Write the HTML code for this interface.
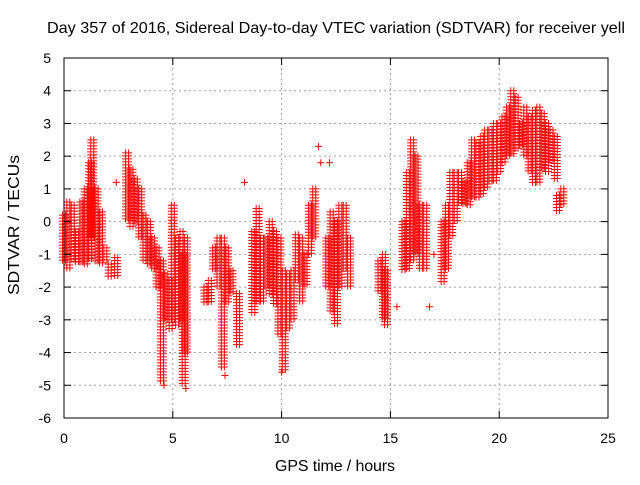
<!DOCTYPE html>
<html><head><meta charset="utf-8"><style>
body{margin:0;background:#fff;width:640px;height:480px;overflow:hidden}
svg text{font-family:"Liberation Sans",sans-serif;font-size:14px;fill:#000}
svg text.big{font-size:16px}
</style></head><body>
<svg id="chart" width="640" height="480" xmlns="http://www.w3.org/2000/svg">
<rect width="640" height="480" fill="#fff"/>
<text class="big" x="47" y="33" textLength="578" lengthAdjust="spacingAndGlyphs">Day 357 of 2016, Sidereal Day-to-day VTEC variation (SDTVAR) for receiver yell</text>
<g id="grid"></g><g id="marks"></g><g id="axes"></g>
<text class="big" x="335" y="471" text-anchor="middle" textLength="120">GPS time / hours</text>
<text class="big" transform="translate(19,225) rotate(-90)" text-anchor="middle" textLength="140" lengthAdjust="spacingAndGlyphs">SDTVAR / TECUs</text>
</svg>
<script>
const xTicks=[0,5,10,15,20,25];
const yTicks=[5,4,3,2,1,0,-1,-2,-3,-4,-5,-6];
const binTimes=[0,0.2,0.4,0.6,0.8,1.0,1.2,1.3,1.5,1.7,1.9,2.1,2.4,2.9,3.1,3.3,3.5,3.7,3.9,4.1,4.3,4.5,4.7,4.9,5.0,5.2,5.4,5.5,5.6,6.5,6.7,6.9,7.1,7.3,7.5,7.7,8.0,8.7,8.9,9.1,9.3,9.5,9.7,9.9,10.1,10.3,10.5,10.7,10.9,11.1,11.3,11.5,12.1,12.3,12.5,12.7,12.9,13.1,14.5,14.7,14.8,15.6,15.8,16.0,16.2,16.4,16.6,17.4,17.6,17.8,18.0,18.2,18.4,18.6,18.8,19.0,19.2,19.4,19.6,19.8,20.0,20.2,20.4,20.6,20.8,21.0,21.2,21.4,21.6,21.8,22.0,22.2,22.4,22.6,22.7,22.9];
const binLows=[-1.2,-1.5,-1.2,-1.3,-1.3,-1.3,-1.2,-0.5,-1.2,-1.3,-1.2,-1.7,-1.7,0,-0.2,0,-0.5,-1.2,-1.3,-1.5,-2,-4.9,-3.0,-3.3,-3,-3.2,-3,-5,-4,-2.5,-2.5,-1.5,-2,-4.5,-2.5,-2.2,-3.8,-2.8,-2.5,-2.5,-2,-2.2,-2.5,-3.5,-4.6,-3.3,-3,-1.8,-2.5,-2,-1,-0.5,-2,-2.8,-3.2,-2,-1.5,-2,-2.2,-3,-3.2,-1.5,-1.5,-1.2,-1,-1.5,-1.5,-1.9,-1.5,-0.5,0,0.5,0.5,0.5,0.7,0.7,0.8,1,1.2,1.2,1.5,1.8,2,2,2.2,2.3,2,1.5,1.2,1.2,1.6,1.5,1.8,1.3,0.3,0.5];
const binHighs=[0.2,0.6,0.5,-0.3,0.6,1.0,1.8,2.5,1.0,0.3,-0.8,-1.3,-1.1,2.1,1.6,1.3,1.0,0.2,0,-0.5,-0.8,-1.2,-1.6,-1.8,0.5,-0.5,-0.3,-1,-0.5,-2,-1.8,-0.8,-0.5,-0.5,-0.8,-1.5,-2.2,-0.3,0.4,-0.5,-0.5,0,-0.3,-0.5,-1.5,-1.6,-1.5,-0.4,-0.5,-1,0.5,1.0,-0.5,0.3,0,0.5,0.5,-0.5,-1.2,-1,-1.5,0,1.5,2.5,2.0,0.5,0.5,0,0.5,1.5,1.5,1.5,1.2,1.8,2.5,2.4,2.6,2.8,2.8,3.0,3.0,3.2,3.5,4.0,3.8,3.0,3.5,3.2,3.4,3.5,3.3,3.0,2.8,2.6,0.8,1.0];
const outT=[8.3,11.7,11.8,12.2,2.4,15.3,16.8,17.0,4.6,5.6,10.0,7.4];
const outV=[1.2,2.3,1.8,1.8,1.2,-2.6,-2.6,-1.0,-5.0,-5.1,-4.6,-4.7];
const X=t=>64+t*544/25, Y=v=>58+(5-v)*360/11;
const NS="http://www.w3.org/2000/svg";
const grid=document.getElementById('grid'),axes=document.getElementById('axes'),marks=document.getElementById('marks');
function ln(p,x1,y1,x2,y2,st,dash){const l=document.createElementNS(NS,'line');l.setAttribute('x1',x1);l.setAttribute('y1',y1);l.setAttribute('x2',x2);l.setAttribute('y2',y2);l.setAttribute('stroke',st);if(dash)l.setAttribute('stroke-dasharray',dash);p.appendChild(l);return l;}
function tx(s,x,y,a){const t=document.createElementNS(NS,'text');t.setAttribute('x',x);t.setAttribute('y',y);t.setAttribute('text-anchor',a);t.textContent=s;axes.appendChild(t);return t;}
xTicks.forEach(t=>{const x=X(t);
 if(t>0&&t<25){const g=ln(grid,x,58,x,418,'#a0a0a0','2,3');
 
 }
 ln(axes,x,418,x,411,'#000');ln(axes,x,58,x,65,'#000');
 const l=tx(String(t),x,443,'middle');
 
 });
yTicks.forEach(v=>{const y=Y(v);
 if(v<5&&v>-6){const g=ln(grid,64,y,608,y,'#a0a0a0','2,3');
 
 }
 ln(axes,64,y,71,y,'#000');ln(axes,608,y,601,y,'#000');
 const l=tx(String(v),51,y+5,'end');
 
 });
const box=document.createElementNS(NS,'rect');box.setAttribute('x',64);box.setAttribute('y',58);box.setAttribute('width',544);box.setAttribute('height',360);box.setAttribute('fill','none');box.setAttribute('stroke','#000');


axes.appendChild(box);
let d='';
function cross(x,y){d+=`M${x-3.5} ${y}h7M${x} ${y-3.5}v7`;}
binTimes.forEach((t,i)=>{const y1=Y(binHighs[i]),y2=Y(binLows[i]);
 for(const dx of [-1.5,1.5]){for(let y=y1;y<=y2+0.1;y+=3)cross(X(t)+dx,y);}});
outT.forEach((t,i)=>cross(X(t),Y(outV[i])));
const p=document.createElementNS(NS,'path');p.setAttribute('d',d);p.setAttribute('stroke','#ff0000');p.setAttribute('stroke-width','1');p.setAttribute('fill','none');


marks.appendChild(p);
</script>
</body></html>
